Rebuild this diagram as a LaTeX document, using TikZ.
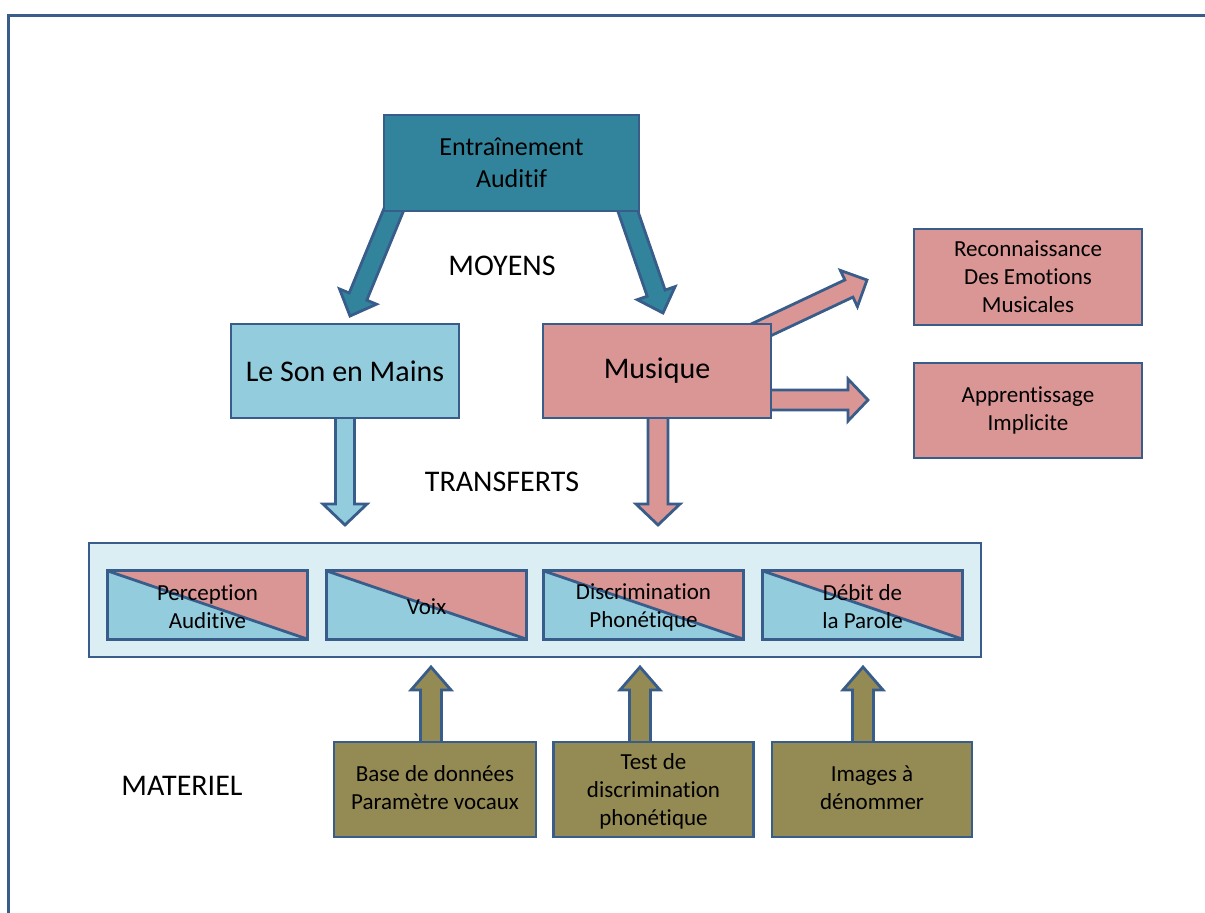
\documentclass[tikz,border=0pt]{standalone}
\usepackage{fontspec}
\setmainfont{Carlito}[Ligatures={NoCommon}]
\usetikzlibrary{calc}
\definecolor{bord}{HTML}{385D8A}
\definecolor{teal}{HTML}{31849B}
\definecolor{lblue}{HTML}{93CDDD}
\definecolor{pinkc}{HTML}{D99694}
\definecolor{contc}{HTML}{DAEEF3}
\definecolor{olive}{HTML}{948A54}
\pgfdeclarelayer{background}
\pgfsetlayers{background,main}
\newcommand\blockarrow[6]{%
  \coordinate (bah) at ($(#3)!#6!(#2)$);
  \draw[#1] ($(#2)!#4!90:(#3)$) -- ($(bah)!#4!-90:(#2)$) -- ($(bah)!#5!-90:(#2)$) -- (#3) -- ($(bah)!#5!90:(#2)$) -- ($(bah)!#4!90:(#2)$) -- ($(#2)!#4!-90:(#3)$) -- cycle;}
\tikzset{
  box/.style={draw=bord, line width=2.8pt, rectangle, inner sep=0pt, align=center, text=black},
  smallfont/.style={font=\fontsize{23}{28}\selectfont},
  bigfont/.style={font=\fontsize{30}{36}\selectfont},
  barrow/.style={draw=bord, line width=2.8pt, line join=miter}
}
\begin{document}
\begin{tikzpicture}[x=1pt,y=-1pt]
\useasboundingbox (0,0) rectangle (1205,913);
\draw[bord, line width=3pt] (1210,15.5) -- (8.5,15.5) -- (8.5,918);

% top box
\node[box, fill=teal, minimum width=255, minimum height=96, font=\fontsize{26}{32}\selectfont, text depth=-3pt] (entr) at (511.5,163) {Entraînement\\Auditif};

% second row
\node[box, fill=lblue, minimum width=228, minimum height=94, bigfont] (son) at (345,371) {Le Son en Mains};
\node[box, fill=pinkc, minimum width=228, minimum height=94, bigfont] (mus) at (657,371) {Musique};

% right boxes
\node[box, fill=pinkc, minimum width=228, minimum height=96, smallfont, text depth=-4pt] (reco) at (1028,277) {Reconnaissance\\Des Emotions\\Musicales};
\node[box, fill=pinkc, minimum width=228, minimum height=95, smallfont] (appr) at (1028,410.5) {Apprentissage\\Implicite};

% labels
\node[bigfont, inner sep=0pt] (moy) at (502,266) {MOYENS};
\node[bigfont, inner sep=0pt] (trans) at (502,482) {TRANSFERTS};
\node[bigfont, inner sep=0pt] (mat) at (182,786) {MATERIEL};

% container
\node[box, fill=contc, minimum width=892, minimum height=114] (cont) at (535,600) {};

% split boxes
\foreach \nm/\cx/\txt in {sp1/207.5/{Perception\\Auditive}, sp2/426.5/{Voix}, sp3/643.5/{Discrimination\\Phonétique}, sp4/862.5/{Débit de\\la Parole}}{
  \node[rectangle, fill=lblue, minimum width=200, minimum height=68, inner sep=0pt] (\nm) at (\cx,605) {};
  \fill[pinkc] (\nm.north west) -- (\nm.north east) -- (\nm.south east) -- cycle;
  \draw[bord, line width=2.8pt] (\nm.north west) -- (\nm.south east);
  \draw[bord, line width=2.8pt] (\nm.north west) rectangle (\nm.south east);
  \node[smallfont, align=center, inner sep=0pt] (\nm t) at (\cx,607) {\txt};
}

% material boxes
\node[box, fill=olive, minimum width=202, minimum height=95, smallfont] (m1) at (435,789.5) {Base de données\\Paramètre vocaux\rule{0pt}{0pt}\vspace{4pt}};
\node[box, fill=olive, minimum width=200, minimum height=95, smallfont, text depth=-5pt] (m2) at (653.5,789.5) {Test de\\discrimination\\phonétique};
\node[box, fill=olive, minimum width=200, minimum height=95, smallfont] (m3) at (872,789.5) {Images à\\dénommer\vspace{4pt}};

% arrow end points
\coordinate (a1s) at (399,197);
\coordinate (a1t) at (350,316);
\coordinate (a2s) at (623,197);
\coordinate (a2t) at (663,313);
\coordinate (a3s) at (731,344);
\coordinate (a3t) at (867,280);
\coordinate (a4s) at (750,400);
\coordinate (a4t) at (868,400);
\coordinate (a5s) at (345,405);
\coordinate (a5t) at (345,525);
\coordinate (a6s) at (658,405);
\coordinate (a6t) at (658,525);
\coordinate (a7s) at (431,755);
\coordinate (a7t) at (431,667);
\coordinate (a8s) at (640,755);
\coordinate (a8t) at (640,667);
\coordinate (a9s) at (863,755);
\coordinate (a9t) at (863,667);

\begin{pgfonlayer}{background}
\blockarrow{barrow, fill=teal}{a1s}{a1t}{9.5pt}{20pt}{21pt}
\blockarrow{barrow, fill=teal}{a2s}{a2t}{9.5pt}{20pt}{21pt}
\blockarrow{barrow, fill=pinkc}{a3s}{a3t}{9.5pt}{20pt}{20pt}
\blockarrow{barrow, fill=pinkc}{a4s}{a4t}{10pt}{21pt}{20pt}
\blockarrow{barrow, fill=lblue}{a5s}{a5t}{9.5pt}{22pt}{21pt}
\blockarrow{barrow, fill=pinkc}{a6s}{a6t}{10pt}{22pt}{21pt}
\blockarrow{barrow, fill=olive}{a7s}{a7t}{10.5pt}{20pt}{23pt}
\blockarrow{barrow, fill=olive}{a8s}{a8t}{10.5pt}{20pt}{23pt}
\blockarrow{barrow, fill=olive}{a9s}{a9t}{10.5pt}{20pt}{23pt}
\end{pgfonlayer}
\end{tikzpicture}
\end{document}
